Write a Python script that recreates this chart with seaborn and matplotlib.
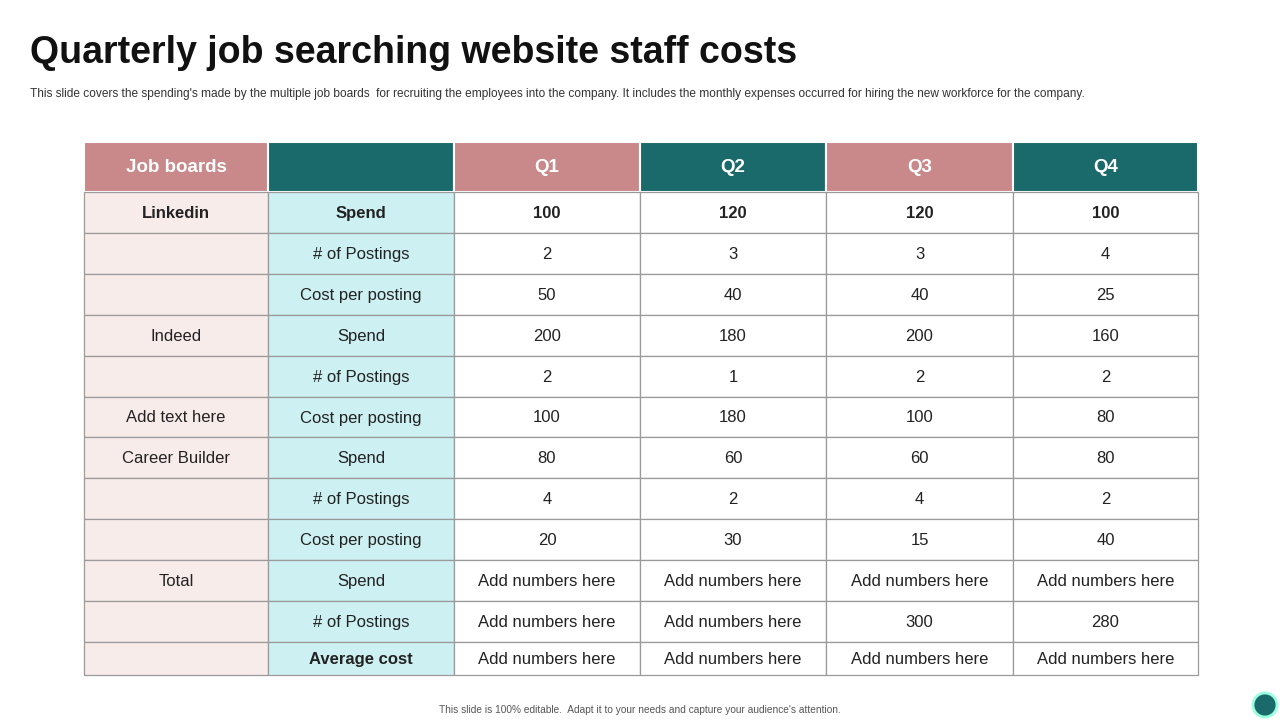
import matplotlib
matplotlib.use("Agg")
import matplotlib.pyplot as plt
import seaborn as sns
from matplotlib.patches import Rectangle, Circle

sns.set_theme(style="white")
plt.rcParams["font.family"] = "Liberation Sans"

headers = ["Job boards", "", "Q1", "Q2", "Q3", "Q4"]
boards = ["Linkedin", "", "", "Indeed", "", "Add text here", "Career Builder", "", "", "Total", "", ""]
metrics = ["Spend", "# of Postings", "Cost per posting", "Spend", "# of Postings", "Cost per posting",
           "Spend", "# of Postings", "Cost per posting", "Spend", "# of Postings", "Average cost"]
A = "Add numbers here"
q1 = ["100", "2", "50", "200", "2", "100", "80", "4", "20", A, A, A]
q2 = ["120", "3", "40", "180", "1", "180", "60", "2", "30", A, A, A]
q3 = ["120", "3", "40", "200", "2", "100", "60", "4", "15", A, "300", A]
q4 = ["100", "4", "25", "160", "2", "80", "80", "2", "40", A, "280", A]

col_edges = [84, 268, 454, 640, 826, 1013, 1198]
row_edges = [142, 192, 233, 274, 315, 356, 397, 437, 478, 519, 560, 601, 642, 675]
PINK, TEAL = "#C9888A", "#1B6A6B"
LPINK, LCYAN = "#F8ECEB", "#CDF0F2"
header_colors = [PINK, TEAL, PINK, TEAL, PINK, TEAL]

fig = plt.figure(figsize=(12.8, 7.2), dpi=100)
ax = fig.add_axes([0, 0, 1, 1])
ax.set_xlim(0, 1280); ax.set_ylim(720, 0); ax.axis("off")

ax.text(30, 53, "Quarterly job searching website staff costs", fontsize=27, fontweight="bold",
        color="#111111", va="center", ha="left")
ax.text(30, 94, "This slide covers the spending's made by the multiple job boards  for recruiting the employees into the company. It includes the monthly expenses occurred for hiring the new workforce for the company.",
        fontsize=8.6, color="#333333", va="center", ha="left")
ax.text(640, 710, "This slide is 100% editable.  Adapt it to your needs and capture your audience's attention.",
        fontsize=7.3, color="#555555", va="center", ha="center")
ax.add_patch(Circle((1265, 705), 12, color=TEAL, ec="#9fd", lw=2))

for j, h in enumerate(headers):
    x0, x1 = col_edges[j], col_edges[j + 1]
    ax.add_patch(Rectangle((x0, row_edges[0]), x1 - x0, row_edges[1] - row_edges[0],
                           fc=header_colors[j], ec="white", lw=1.5))
    ax.text((x0 + x1) / 2, (row_edges[0] + row_edges[1]) / 2, h, color="white", fontsize=13.5,
            fontweight="bold", ha="center", va="center")

cols = [boards, metrics, q1, q2, q3, q4]
fills = [LPINK, LCYAN, "white", "white", "white", "white"]
for i in range(len(metrics)):
    y0, y1 = row_edges[i + 1], row_edges[i + 2]
    for j, col in enumerate(cols):
        x0, x1 = col_edges[j], col_edges[j + 1]
        ax.add_patch(Rectangle((x0, y0), x1 - x0, y1 - y0, fc=fills[j], ec="#9a9a9a", lw=0.9))
        bold = (i == 0) or (j == 1 and i == 11)
        ax.text((x0 + x1) / 2, (y0 + y1) / 2 + 1, col[i], fontsize=12, color="#222222",
                fontweight="bold" if bold else "normal", ha="center", va="center")

fig.savefig("out.png", dpi=100)
